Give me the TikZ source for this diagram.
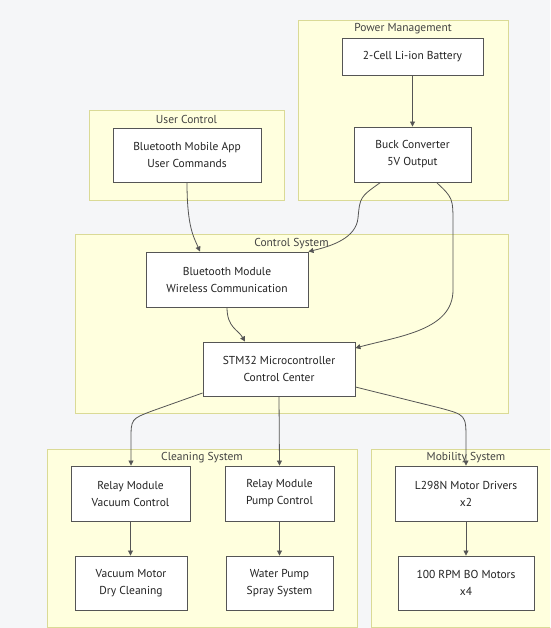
\documentclass[tikz,border=0pt]{standalone}
\usepackage{fontspec}
\setmainfont{PT Sans}
\usetikzlibrary{arrows.meta}
\definecolor{bgc}{RGB}{245,246,248}
\definecolor{clfill}{RGB}{255,255,222}
\definecolor{cldraw}{RGB}{218,218,150}
\definecolor{edgec}{RGB}{85,85,85}
\definecolor{txtc}{RGB}{34,34,34}
\tikzset{
  box/.style={draw=edgec, line width=0.9pt, fill=white, rectangle, align=center,
    inner sep=0pt, font=\fontsize{11.5}{17}\selectfont, text=txtc},
  cluster/.style={draw=cldraw, line width=0.9pt, fill=clfill},
  ctitle/.style={font=\fontsize{11.5}{14}\selectfont, text=txtc!85, inner sep=0pt},
  link/.style={draw=edgec, line width=0.8pt, -{Triangle[width=5pt,length=5pt]}},
}
\begin{document}
\begin{tikzpicture}[x=1pt,y=-1pt]
\clip (0,0) rectangle (550,628);
\fill[bgc] (0,0) rectangle (550,628);
% clusters
\draw[cluster] (298,20) rectangle (508,200);
\draw[cluster] (89,110) rectangle (284,200);
\draw[cluster] (75,234) rectangle (508,413);
\draw[cluster] (47,449) rectangle (357,627);
\draw[cluster] (371,449) rectangle (561,627);
% nodes
\node[box, minimum width=141pt, minimum height=37pt] (bat) at (412.5,56.5) {2-Cell Li-ion Battery};
\node[box, minimum width=117pt, minimum height=55pt] (buck) at (412.5,154.5) {Buck Converter\\5V Output};
\node[box, minimum width=148pt, minimum height=54pt] (app) at (187,155) {Bluetooth Mobile App\\User Commands};
\node[box, minimum width=162pt, minimum height=55pt] (btm) at (227,279.5) {Bluetooth Module\\Wireless Communication};
\node[box, minimum width=152pt, minimum height=54pt] (stm) at (279,369) {STM32 Microcontroller\\Control Center};
\node[box, minimum width=119pt, minimum height=55pt] (rv) at (130.5,493.5) {Relay Module\\Vacuum Control};
\node[box, minimum width=109pt, minimum height=55pt] (rp) at (279.5,493.5) {Relay Module\\Pump Control};
\node[box, minimum width=142pt, minimum height=55pt] (l298) at (466,493.5) {L298N Motor Drivers\\x2};
\node[box, minimum width=112pt, minimum height=54pt] (vm) at (131,583) {Vacuum Motor\\Dry Cleaning};
\node[box, minimum width=107pt, minimum height=54pt] (wp) at (279.5,583) {Water Pump\\Spray System};
\node[box, minimum width=136pt, minimum height=54pt] (bo) at (466,583) {100 RPM BO Motors\\x4};
% cluster titles
\node[ctitle] (tpm) at (403,29) {Power Management};
\node[ctitle] (tuc) at (186.5,119) {User Control};
\node[ctitle] (tcs) at (291.5,244) {Control System};
\node[ctitle] (tcl) at (202,458) {Cleaning System};
\node[ctitle] (tmb) at (466,458) {Mobility System};
% edges
\draw[link] (bat) -- (buck);
\draw[link] (app.south) .. controls ([yshift=-45]app.south) and ([xshift=-6,yshift=14]btm.north -| 200,0) .. (btm.north -| 200,0);
\draw[link] ([xshift=-32]buck.south) .. controls (360,197) .. (358,218) .. controls (356,238) and (332,246) .. (btm.north east);
\draw[link] ([xshift=24]buck.south) .. controls (453,198) .. (453,225) -- (453,290) .. controls (453,330) and (400,336) .. ([yshift=21]stm.east);
\draw[link] (btm.south) .. controls ([yshift=-20]btm.south) and ([xshift=-7,yshift=12]stm.north -| 245,0) .. (stm.north -| 245,0);
\draw[link] ([yshift=-24]stm.west) -- (152,411) .. controls (131,419) .. (131,440) -- (rv.north -| 131,0);
\draw[link] (stm.south) -- (rp.north);
\draw[link] ([yshift=-18]stm.east) -- (440,408) .. controls (466,415) .. (466,440) -- (l298.north);
\draw[link] (rv) -- (vm.north -| rv.south);
\draw[link] (rp) -- (wp.north -| rp.south);
\draw[link] (l298) -- (bo);
\end{tikzpicture}
\end{document}
